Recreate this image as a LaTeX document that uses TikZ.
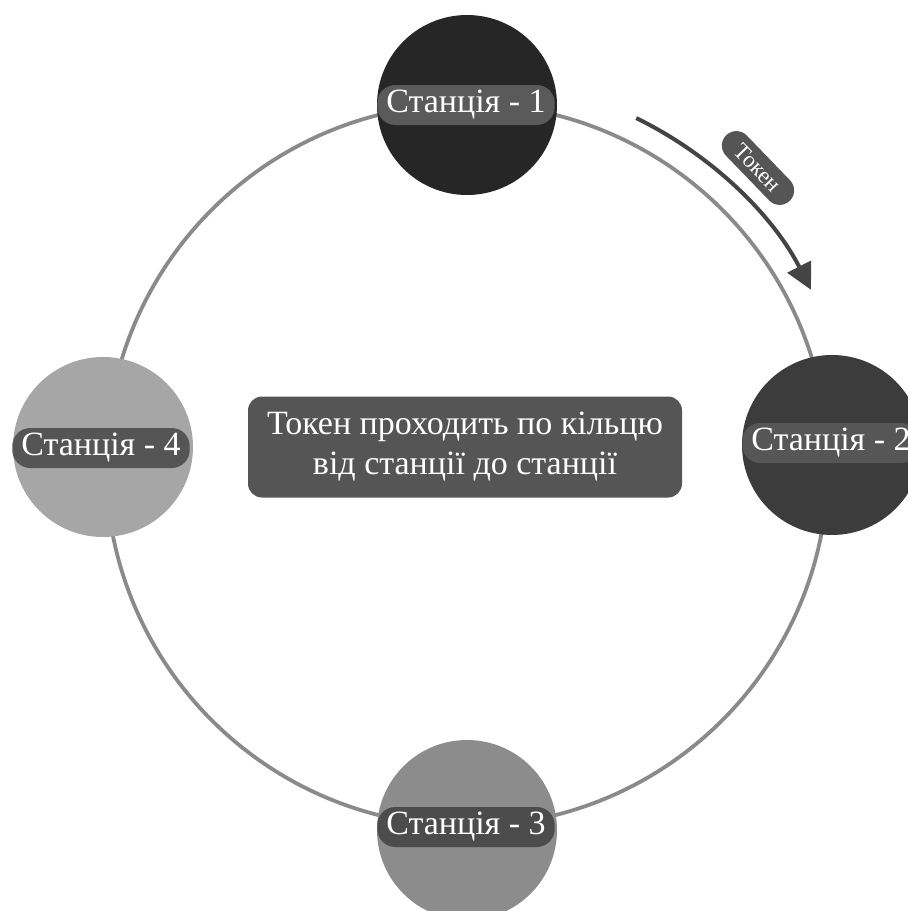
\documentclass[tikz,border=0pt]{standalone}
\usepackage{fontspec}
\setmainfont{Liberation Serif}
\usetikzlibrary{shapes.misc,arrows.meta}
\definecolor{ringc}{HTML}{8A8A8A}
\definecolor{stA}{HTML}{262626}
\definecolor{stB}{HTML}{3C3C3C}
\definecolor{stC}{HTML}{8C8C8C}
\definecolor{stD}{HTML}{A6A6A6}
\definecolor{pillA}{HTML}{5A5A5A}
\definecolor{pillB}{HTML}{565656}
\definecolor{pillC}{HTML}{4C4C4C}
\definecolor{pillD}{HTML}{555555}
\definecolor{boxc}{HTML}{555555}
\definecolor{arrc}{HTML}{444444}
\tikzset{
  ringline/.style={draw=ringc, line width=3.8pt},
  station/.style={circle, minimum size=180pt, inner sep=0pt, draw=none},
  lab/.style={rectangle, rounded corners=18pt, text=white, minimum height=40pt, inner xsep=9pt, inner ysep=0pt,
    font=\fontsize{34}{40}\selectfont},
  centerbox/.style={rectangle, rounded corners=14pt, fill=boxc, text=white, minimum width=434pt,
    minimum height=101pt, align=center, font=\fontsize{34}{40}\selectfont},
  tokpill/.style={rounded rectangle, fill=boxc, text=white, minimum height=29pt, inner xsep=15pt,
    inner ysep=0pt, font=\fontsize{23}{26}\selectfont},
  tokarrow/.style={draw=arrc, line width=4pt, -{Triangle[length=26pt,width=26pt]}}
}
\begin{document}
\begin{tikzpicture}[x=1pt,y=1pt]
\useasboundingbox (0,0) rectangle (908,-911);
\clip (0,0) rectangle (908,-911);
\coordinate (C) at (467,-465);
\draw[ringline] (C) circle[radius=361pt];
\node[station, fill=stA] (s1) at (467,-105) {};
\node[station, fill=stB] (s2) at (832,-445) {};
\node[station, fill=stC] (s3) at (467,-830) {};
\node[station, fill=stD] (s4) at (103,-447) {};
\node[lab, fill=pillA] (l1) at (466,-105) {Станція - 1};
\node[lab, fill=pillB] (l2) at (831,-443) {Станція - 2};
\node[lab, fill=pillC] (l3) at (466,-827) {Станція - 3};
\node[lab, fill=pillD] (l4) at (101,-448) {Станція - 4};
\node[centerbox] (cb) at (465,-447) {Токен проходить по кільцю\\від станції до станції};
\coordinate (a0) at ([shift={(64:386pt)}]C);
\draw[tokarrow] (a0) arc[start angle=64, end angle=27, radius=386pt];
\node[tokpill, rotate=-46] (tk) at (758,-168) {Токен};
\end{tikzpicture}
\end{document}
